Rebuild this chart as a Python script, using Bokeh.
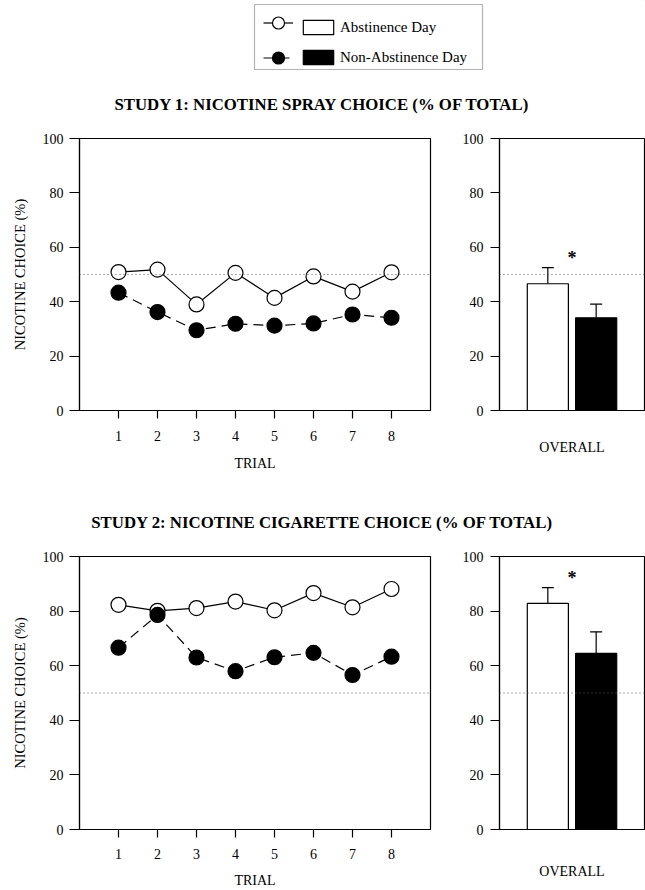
from bokeh.plotting import figure
from bokeh.models import (Range1d, FixedTicker, Span, Legend, LegendItem, BoxAnnotation,
                          Label, Whisker, TeeHead, ColumnDataSource)
from bokeh.layouts import column, row
from bokeh.embed import file_html
from bokeh.resources import INLINE
from bokeh.core.properties import value

FONT = "Liberation Serif"

# ---------------- data ----------------
trials = [1, 2, 3, 4, 5, 6, 7, 8]
y_ticks = [0, 20, 40, 60, 80, 100]
chance_level = 50

study1_abst = [50.9, 51.8, 39.0, 50.6, 41.4, 49.3, 43.7, 50.8]
study1_non = [43.3, 36.2, 29.5, 31.9, 31.2, 32.0, 35.3, 34.1]
study1_overall = [46.6, 34.1]
study1_err = [5.9, 5.0]

study2_abst = [82.3, 80.1, 81.1, 83.5, 80.3, 86.6, 81.4, 88.1]
study2_non = [66.6, 78.6, 63.0, 58.0, 63.1, 64.7, 56.6, 63.3]
study2_overall = [82.8, 64.5]
study2_err = [5.8, 7.9]

conditions = ["Abstinence Day", "Non-Abstinence Day"]
bar_colors = ["white", "black"]

title1 = "STUDY 1:  NICOTINE SPRAY CHOICE (% OF TOTAL)"
title2 = "STUDY 2:  NICOTINE CIGARETTE CHOICE (% OF TOTAL)"

LW = 1.2
DASH = "10 6"


def style_y(p, tick_out, standoff):
    ax = p.yaxis[0]
    ax.ticker = FixedTicker(ticks=y_ticks)
    ax.major_tick_out = tick_out
    ax.major_tick_in = 0
    ax.minor_tick_line_color = None
    ax.major_label_standoff = standoff
    ax.major_label_text_font = FONT
    ax.major_label_text_font_size = "14px"
    ax.major_label_text_color = "black"
    ax.axis_line_color = "black"
    ax.axis_line_width = LW
    ax.major_tick_line_color = "black"
    ax.major_tick_line_width = LW


def line_panel(abst, non, height, b_top, b_bottom, tick_standoff, lab_standoff):
    p = figure(width=440, height=height, x_range=Range1d(0, 9), y_range=Range1d(0, 100),
               output_backend="svg", toolbar_location=None,
               min_border_left=79, min_border_right=10,
               min_border_top=b_top, min_border_bottom=b_bottom)
    p.title = None
    p.grid.visible = False
    p.outline_line_color = "black"
    p.outline_line_width = LW
    style_y(p, 10, 6)
    yax = p.yaxis[0]
    yax.axis_label = "NICOTINE CHOICE (%)"
    yax.axis_label_text_font = FONT
    yax.axis_label_text_font_size = "14.5px"
    yax.axis_label_text_font_style = "normal"
    yax.axis_label_text_color = "black"
    yax.axis_label_standoff = 12
    xax = p.xaxis[0]
    xax.ticker = FixedTicker(ticks=trials)
    xax.major_tick_out = 8
    xax.major_tick_in = 0
    xax.minor_tick_line_color = None
    xax.major_label_standoff = tick_standoff
    xax.major_label_text_font = FONT
    xax.major_label_text_font_size = "14px"
    xax.major_label_text_color = "black"
    xax.axis_label = "TRIAL"
    xax.axis_label_text_font = FONT
    xax.axis_label_text_font_size = "14px"
    xax.axis_label_text_font_style = "normal"
    xax.axis_label_text_color = "black"
    xax.axis_label_standoff = lab_standoff
    xax.axis_line_color = "black"
    xax.axis_line_width = LW
    xax.major_tick_line_color = "black"
    xax.major_tick_line_width = LW

    p.add_layout(Span(location=chance_level, dimension="width", line_color="#555555",
                      line_dash="1 3", line_width=1))
    p.line(trials, abst, line_color="black", line_width=LW)
    p.scatter(trials, abst, marker="circle", size=15, fill_color="white",
              line_color="black", line_width=LW)
    p.line(trials, non, line_color="black", line_width=LW, line_dash=DASH)
    p.scatter(trials, non, marker="circle", size=15, fill_color="black",
              line_color="black", line_width=LW)
    return p


def bar_panel(vals, errs, height, b_top, b_bottom, lab_standoff):
    p = figure(width=205, height=height, x_range=Range1d(0, 3.0), y_range=Range1d(0, 100),
               output_backend="svg", toolbar_location=None,
               min_border_left=59, min_border_right=1,
               min_border_top=b_top, min_border_bottom=b_bottom)
    p.title = None
    p.grid.visible = False
    p.outline_line_color = "black"
    p.outline_line_width = LW
    style_y(p, 9, 7)
    xax = p.xaxis[0]
    xax.ticker = FixedTicker(ticks=[])
    xax.major_tick_out = 0
    xax.major_tick_in = 0
    xax.minor_tick_line_color = None
    xax.axis_label = "OVERALL"
    xax.axis_label_text_font = FONT
    xax.axis_label_text_font_size = "14px"
    xax.axis_label_text_font_style = "normal"
    xax.axis_label_text_color = "black"
    xax.axis_label_standoff = lab_standoff
    xax.axis_line_color = "black"
    xax.axis_line_width = LW

    xs = [i + 1 for i in range(len(conditions))]
    src = ColumnDataSource(dict(x=xs, top=vals, upper=[v + e for v, e in zip(vals, errs)],
                                color=bar_colors, cond=conditions))
    p.add_layout(Span(location=chance_level, dimension="width", line_color="#555555",
                      line_dash="1 3", line_width=1))
    p.add_layout(Whisker(source=src, base="x", lower="top", upper="upper",
                         line_color="black", line_width=LW, lower_head=None,
                         upper_head=TeeHead(size=12, line_color="black", line_width=LW),
                         level="underlay"))
    p.vbar(x="x", top="top", bottom=0, width=0.85, fill_color="color", line_color="black",
           line_width=LW, source=src)
    star_y = max(src.data["upper"]) + 3.5
    p.text(x=[sum(xs) / len(xs)], y=[star_y], text=["*"], text_align="center",
           text_baseline="middle", text_font=value(FONT), text_font_size="18px",
           text_font_style="bold", text_color="black")
    return p


# ---------------- legend + title 1 ----------------
LEG_H = 120
leg = figure(width=645, height=LEG_H, x_range=Range1d(-3, -2), y_range=Range1d(-3, -2),
             output_backend="svg", toolbar_location=None, min_border=0,
             x_axis_location=None, y_axis_location=None, outline_line_color=None)
leg.title = None
leg.grid.visible = False
# legend-sample renderers: real data, kept outside the visible (negative) range
la = leg.line(x=trials, y=study1_abst, line_color="black", line_width=LW)
sa = leg.scatter(x=trials, y=study1_abst, marker="circle", size=14, fill_color="white",
                 line_color="black", line_width=LW)
ln = leg.line(x=trials, y=study1_non, line_color="black", line_width=LW, line_dash=DASH)
sn = leg.scatter(x=trials, y=study1_non, marker="circle", size=14, fill_color="black",
                 line_color="black", line_width=LW)
ba = leg.vbar(x=[1], top=study1_overall[:1], width=0.5, fill_color=bar_colors[0],
              line_color="black", line_width=LW)
bn = leg.vbar(x=[2], top=study1_overall[1:], width=0.5, fill_color=bar_colors[1],
              line_color="black", line_width=LW)

legA = Legend(items=[LegendItem(label="", renderers=[la, sa]),
                     LegendItem(label="", renderers=[ln, sn])],
              location=(263, 45.5), glyph_width=30, glyph_height=35, spacing=-5,
              label_width=0, label_standoff=0, padding=0, margin=0,
              border_line_color=None, background_fill_alpha=0)
legB = Legend(items=[LegendItem(label=conditions[0], renderers=[ba]),
                     LegendItem(label=conditions[1], renderers=[bn])],
              location=(299, 54), glyph_width=38, glyph_height=18, label_height=18,
              spacing=12, label_standoff=3, padding=0, margin=0,
              label_text_font=FONT, label_text_font_size="15px", label_text_color="black",
              border_line_color=None, background_fill_alpha=0)
leg.add_layout(legA)
leg.add_layout(legB)
leg.add_layout(BoxAnnotation(left=254, right=482, top=LEG_H - 4, bottom=LEG_H - 69,
                             left_units="screen", right_units="screen",
                             top_units="screen", bottom_units="screen",
                             fill_alpha=0, line_color="black", line_width=LW))
leg.add_layout(Label(x=324, y=LEG_H - 104, x_units="screen", y_units="screen", text=title1,
                     text_align="center", text_baseline="middle", text_font=FONT,
                     text_font_size="16.8px", text_font_style="bold", text_color="black"))

# ---------------- panels ----------------
p1 = line_panel(study1_abst, study1_non, 380, 18, 90, 12, 12)
b1 = bar_panel(study1_overall, study1_err, 380, 18, 90, 29)

T2_H = 40
t2 = figure(width=645, height=T2_H, x_range=Range1d(0, 1), y_range=Range1d(0, 1),
            output_backend="svg", toolbar_location=None, min_border=0,
            x_axis_location=None, y_axis_location=None, outline_line_color=None)
t2.title = None
t2.grid.visible = False
t2.add_layout(Label(x=324, y=T2_H - 22, x_units="screen", y_units="screen", text=title2,
                    text_align="center", text_baseline="middle", text_font=FONT,
                    text_font_size="16.8px", text_font_style="bold", text_color="black"))

p2 = line_panel(study2_abst, study2_non, 350, 16, 60, 11, 11)
b2 = bar_panel(study2_overall, study2_err, 350, 16, 60, 34)

layout = column(leg, row(p1, b1), t2, row(p2, b2))

with open("out.html", "w") as f:
    f.write(file_html(layout, INLINE))
